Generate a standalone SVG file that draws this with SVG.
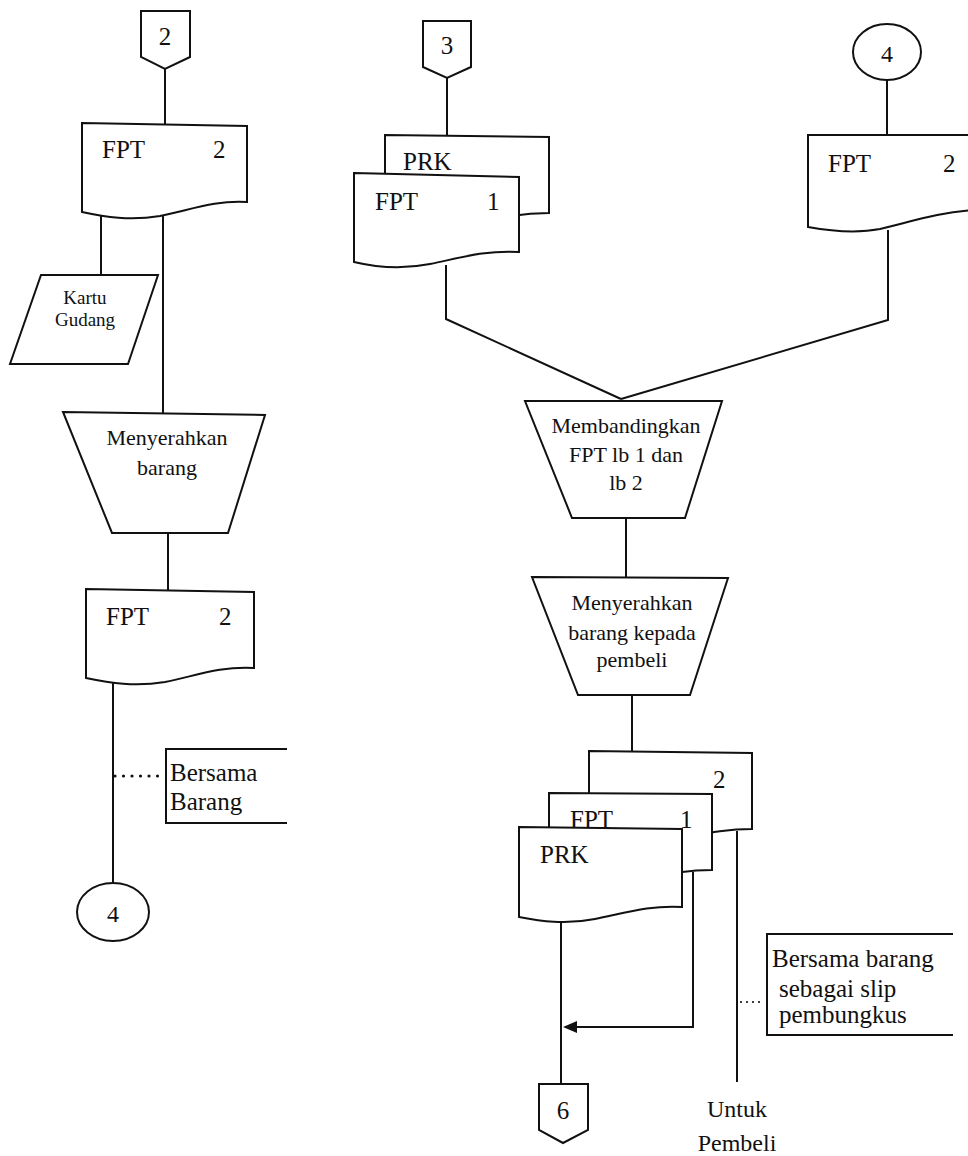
<svg xmlns="http://www.w3.org/2000/svg" width="968" height="1156" viewBox="0 0 968 1156">
<style>
.s{fill:#fff;stroke:#111;stroke-width:2;stroke-linejoin:miter}
.l{fill:none;stroke:#111;stroke-width:2}
.dot{fill:none;stroke:#111;stroke-width:3.2;stroke-linecap:round;stroke-dasharray:0 8.5}
.dot2{fill:none;stroke:#111;stroke-width:2.2;stroke-linecap:round;stroke-dasharray:0 6}
.tx{fill:#111}
.t25{font-size:25px}
.t22{font-size:22px}
.t19{font-size:19px}
.t24{font-size:24px}
.c{text-anchor:middle}
</style>
<rect width="968" height="1156" fill="#fff"/>

<g id="connectors">
<line class="l" x1="165" y1="69" x2="165" y2="125"/>
<line class="l" x1="101" y1="216" x2="101" y2="275"/>
<line class="l" x1="163" y1="216" x2="163" y2="413"/>
<line class="l" x1="168" y1="533" x2="168" y2="590"/>
<line class="l" x1="113" y1="683" x2="113" y2="883"/>
<path class="dot" d="M115,776 H163"/>
<line class="l" x1="447" y1="78" x2="447" y2="136"/>
<polyline class="l" points="446,265 446,319 621,399"/>
<line class="l" x1="887" y1="80" x2="887" y2="136"/>
<polyline class="l" points="888,230 888,320 621,399"/>
<line class="l" x1="626" y1="518" x2="626" y2="578"/>
<line class="l" x1="632" y1="695" x2="632" y2="752"/>
<line class="l" x1="561" y1="921" x2="561" y2="1084"/>
<polyline class="l" points="693,872 693,1027 575,1027"/>
<polygon points="563,1027 577,1021 577,1033" fill="#111"/>
<line class="l" x1="737" y1="831" x2="737" y2="1082"/>
<path class="dot2" d="M741,1002 H764"/>
</g>

<g font-family="'Liberation Serif', 'Times New Roman', 'DejaVu Serif', serif" class="tx">
<g id="off-page-2">
<polygon class="s" points="141,11 190,11 190,57 165,69 141,57"/>
<text class="t25 c" x="165" y="45">2</text>
</g>

<g id="doc-fpt2-a">
<path class="s" d="M82,123 L247,126 L247,202 C215,200 190,210 160,216 C130,221 105,217 82,212 Z"/>
<text class="t25" x="102" y="158">FPT</text>
<text class="t25" x="213" y="158">2</text>
</g>

<g id="kartu-gudang">
<polygon class="s" points="41,275 158,275 128,364 10,364"/>
<text class="t19 c" x="85" y="304">Kartu</text>
<text class="t19 c" x="85" y="326">Gudang</text>
</g>

<g id="proc-menyerahkan-barang">
<polygon class="s" points="63,412 265,415 228,533 112,533"/>
<text class="t22 c" x="167" y="445">Menyerahkan</text>
<text class="t22 c" x="167" y="475">barang</text>
</g>

<g id="doc-fpt2-b">
<path class="s" d="M86,589 L254,592 L254,668 C220,666 195,676 165,682 C135,687 110,683 86,678 Z"/>
<text class="t25" x="106" y="625">FPT</text>
<text class="t25" x="219" y="625">2</text>
</g>

<g id="note-bersama-barang">
<path class="l" d="M287,749 H166 V823 H287"/>
<text class="t25" x="170" y="781">Bersama</text>
<text class="t25" x="170" y="810">Barang</text>
</g>

<g id="on-page-4-bottom">
<ellipse class="s" cx="113" cy="912" rx="36" ry="29"/>
<text class="t24 c" x="113" y="922">4</text>
</g>

<g id="off-page-3">
<polygon class="s" points="423,21 471,21 471,67 447,78 423,67"/>
<text class="t25 c" x="447" y="54">3</text>
</g>

<g id="doc-prk-fpt1">
<path class="s" d="M385,135 L549,137 L549,213 C515,213 490,220 460,226 C430,231 405,228 385,224 Z"/>
<text class="t25" x="403" y="170">PRK</text>
<path class="s" d="M354,173 L519,177 L519,252 C485,250 460,258 430,264 C400,270 375,267 354,262 Z"/>
<text class="t25" x="375" y="210">FPT</text>
<text class="t25" x="487" y="210">1</text>
</g>

<g id="on-page-4-top">
<ellipse class="s" cx="887" cy="52" rx="34" ry="28"/>
<text class="t24 c" x="887" y="62">4</text>
</g>

<g id="doc-fpt2-c">
<path class="s" d="M808,135 L975,135 L975,210 C940,212 910,222 880,229 C855,234 830,231 808,227 Z"/>
<text class="t25" x="828" y="172">FPT</text>
<text class="t25" x="943" y="172">2</text>
</g>

<g id="proc-membandingkan">
<polygon class="s" points="525,401 722,401 685,518 572,518"/>
<text class="t22 c" x="626" y="433">Membandingkan</text>
<text class="t22 c" x="626" y="462">FPT lb 1 dan</text>
<text class="t22 c" x="626" y="490">lb 2</text>
</g>

<g id="proc-menyerahkan-pembeli">
<polygon class="s" points="532,577 728,578 690,695 578,695"/>
<text class="t22 c" x="632" y="610">Menyerahkan</text>
<text class="t22 c" x="632" y="640">barang kepada</text>
<text class="t22 c" x="632" y="667">pembeli</text>
</g>

<g id="doc-stack-bottom">
<path class="s" d="M589,751 L752,753 L752,829 C722,829 700,835 672,840 C640,846 612,842 589,838 Z"/>
<text class="t25" x="713" y="788">2</text>
<path class="s" d="M549,793 L712,794 L712,870 C682,870 660,876 632,881 C600,887 572,883 549,879 Z"/>
<text class="t25" x="570" y="828">FPT</text>
<text class="t25" x="680" y="828">1</text>
<path class="s" d="M519,827 L682,829 L682,907 C650,905 625,913 595,919 C565,925 540,921 519,917 Z"/>
<text class="t25" x="540" y="863">PRK</text>
</g>

<g id="note-slip">
<path class="l" d="M953,934 H767 V1035 H953"/>
<text class="t25" x="772" y="967">Bersama barang</text>
<text class="t25" x="779" y="997">sebagai slip</text>
<text class="t25" x="779" y="1023">pembungkus</text>
</g>

<g id="off-page-6">
<polygon class="s" points="539,1084 588,1084 588,1130 563,1143 539,1130"/>
<text class="t25 c" x="563" y="1119">6</text>
</g>

<g id="label-untuk-pembeli">
<text class="t24 c" x="737" y="1117">Untuk</text>
<text class="t24 c" x="737" y="1151">Pembeli</text>
</g>
</g>
</svg>
